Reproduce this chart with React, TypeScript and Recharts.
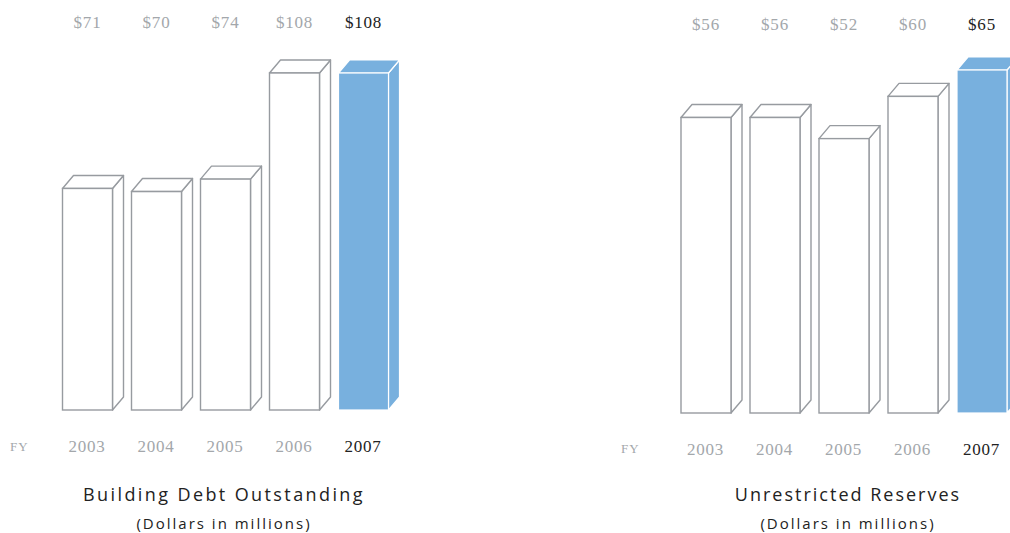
import { BarChart, Bar, XAxis, YAxis, LabelList } from "recharts";

const years = ["2003", "2004", "2005", "2006", "2007"];
const debtValues = [71, 70, 74, 108, 108];
const reserveValues = [56, 56, 52, 60, 65];
const currentYear = "2007";

const GRAY_TEXT = "#a3a7ab";
const DARK_TEXT = "#222";
const EDGE = "#979ba0";
const BLUE = "#78b0de";
const SERIF = "'Liberation Serif', 'DejaVu Serif', serif";
const SANS = "'Open Sans', 'DejaVu Sans', sans-serif";

const DX = 11;
const DY = 13;

function Box3D(props: any) {
  const { x, y, width, height, payload } = props;
  const hi = payload.year === currentYear;
  const fill = hi ? BLUE : "#fff";
  const stroke = hi ? "#fff" : EDGE;
  const sw = hi ? 1.2 : 1.4;
  const r = x + width;
  const b = y + height;
  return (
    <g>
      <polygon
        points={`${r},${y} ${r + DX},${y - DY} ${r + DX},${b - DY} ${r},${b}`}
        fill={fill}
        stroke={stroke}
        strokeWidth={sw}
        strokeLinejoin="round"
      />
      <polygon
        points={`${x},${y} ${x + DX},${y - DY} ${r + DX},${y - DY} ${r},${y}`}
        fill={fill}
        stroke={stroke}
        strokeWidth={sw}
        strokeLinejoin="round"
      />
      <rect x={x} y={y} width={width} height={height} fill={fill} stroke={stroke} strokeWidth={sw} />
    </g>
  );
}

function YearTick(props: any) {
  const { x, y, payload } = props;
  const hi = payload.value === currentYear;
  return (
    <text
      x={x}
      y={y + 40}
      textAnchor="middle"
      fill={hi ? DARK_TEXT : GRAY_TEXT}
      fontFamily={SERIF}
      fontSize={17}
      letterSpacing={0.8}
    >
      {payload.value}
    </text>
  );
}

function makeValueLabel(baseline: number) {
  return function ValueLabel(props: any) {
    const { x, width, value, index } = props;
    const hi = years[index] === currentYear;
    return (
      <text
        x={x + width / 2}
        y={baseline}
        textAnchor="middle"
        fill={hi ? DARK_TEXT : GRAY_TEXT}
        fontFamily={SERIF}
        fontSize={17}
        letterSpacing={0.8}
      >
        {"$" + value}
      </text>
    );
  };
}

interface PanelProps {
  values: number[];
  left: number;
  width: number;
  margin: { top: number; right: number; bottom: number; left: number };
  labelY: number;
  title: string;
  center: number;
  titleSpacing: number;
  fyY: number;
}

function Panel({ values, left, width, margin, labelY, title, center, titleSpacing, fyY }: PanelProps) {
  const data = years.map((year, i) => ({ year, value: values[i] }));
  const max = Math.max(...values);
  return (
    <>
      <div style={{ position: "absolute", left, top: 0 }}>
        <BarChart width={width} height={533} data={data} margin={margin}>
          <XAxis
            dataKey="year"
            axisLine={false}
            tickLine={false}
            tickSize={0}
            height={40}
            interval={0}
            tick={<YearTick />}
          />
          <YAxis hide domain={[0, max]} />
          <Bar dataKey="value" barSize={50} shape={<Box3D />} isAnimationActive={false}>
            <LabelList dataKey="value" content={makeValueLabel(labelY)} />
          </Bar>
        </BarChart>
      </div>
      <div
        style={{
          position: "absolute",
          left: left + 10,
          top: fyY,
          fontFamily: SERIF,
          fontSize: 13,
          lineHeight: "15px",
          letterSpacing: 1,
          color: GRAY_TEXT,
        }}
      >
        FY
      </div>
      <div
        style={{
          position: "absolute",
          left: center - 200,
          width: 400,
          top: 482,
          textAlign: "center",
          fontFamily: SANS,
          fontSize: 18,
          letterSpacing: titleSpacing,
          color: DARK_TEXT,
        }}
      >
        {title}
      </div>
      <div
        style={{
          position: "absolute",
          left: center - 200,
          width: 400,
          top: 513,
          textAlign: "center",
          fontFamily: SANS,
          fontSize: 15,
          letterSpacing: 2,
          color: DARK_TEXT,
        }}
      >
        (Dollars in millions)
      </div>
    </>
  );
}

export default function App() {
  return (
    <div
      style={{
        position: "absolute",
        left: 0,
        top: 0,
        width: 1010,
        height: 533,
        overflow: "hidden",
        background: "#fff",
      }}
    >
      <Panel
        values={debtValues}
        left={0}
        width={420}
        margin={{ top: 73, right: 22.5, bottom: 83, left: 52.5 }}
        labelY={28}
        title="Building Debt Outstanding"
        center={224}
        titleSpacing={2.4}
        fyY={439}
      />
      <Panel
        values={reserveValues}
        left={611}
        width={410}
        margin={{ top: 70, right: 5, bottom: 80, left: 60 }}
        labelY={30}
        title="Unrestricted Reserves"
        center={848}
        titleSpacing={2.0}
        fyY={441}
      />
    </div>
  );
}
